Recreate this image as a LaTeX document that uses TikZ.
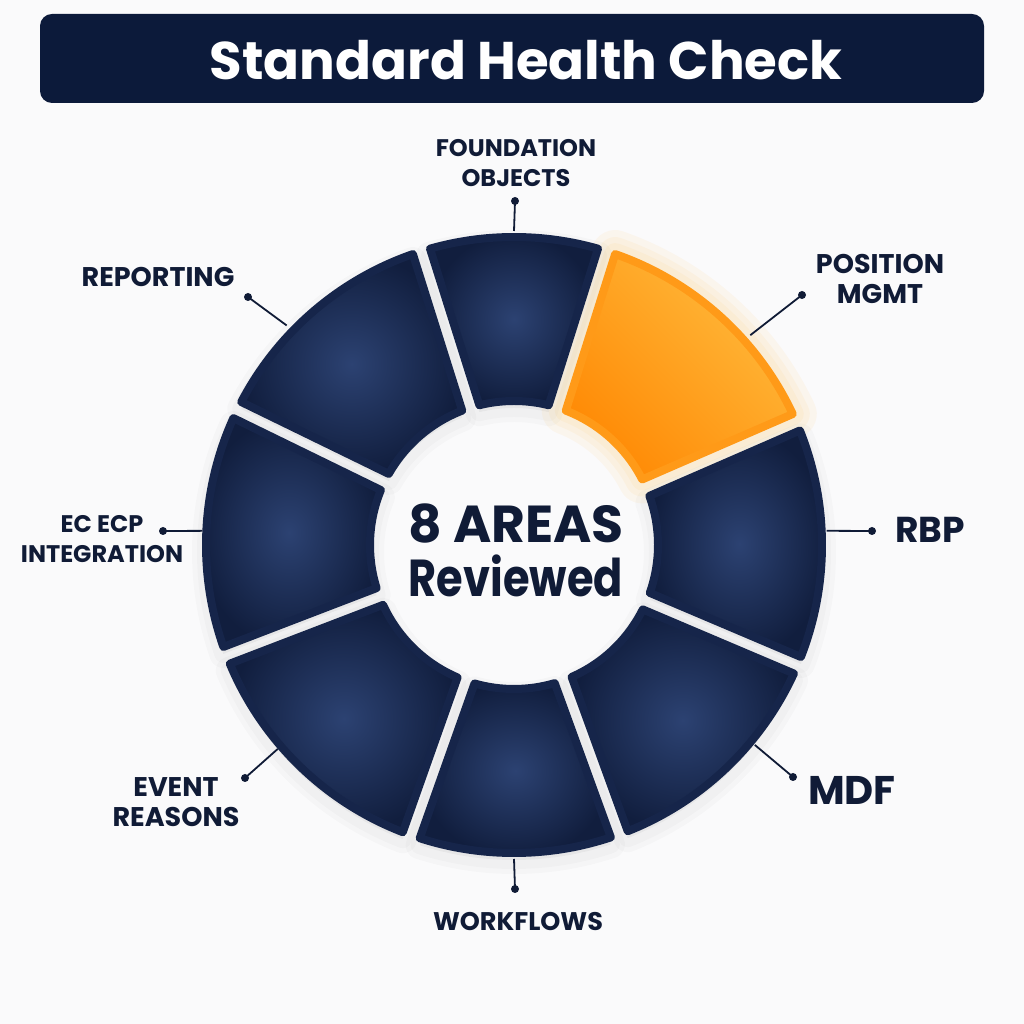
\documentclass[tikz,border=0pt]{standalone}
\usepackage{fontspec}
\setmainfont{Poppins}
\definecolor{navy}{HTML}{0C1A3A}
\definecolor{navyD}{HTML}{111E3E}
\definecolor{navyL}{HTML}{2C4272}
\definecolor{navyE}{HTML}{16254A}
\definecolor{orD}{HTML}{FF8A05}
\definecolor{orL}{HTML}{FFBA3C}
\definecolor{orE}{HTML}{FF9A18}
\definecolor{txt}{HTML}{101B36}
\definecolor{bgc}{HTML}{FAFAFB}
\newcommand\RgOut{308}
\newcommand\RgIn{144}
\newcommand\RgdO{1.67}
\newcommand\RgdI{3.58}
\newcommand\RingSeg[3]{%
 \pgfmathsetmacro\aoS{#1+\RgdO}\pgfmathsetmacro\aoE{#2-\RgdO}%
 \pgfmathsetmacro\aiS{#1+\RgdI}\pgfmathsetmacro\aiE{#2-\RgdI}%
 \path[#3] (\aoS:\RgOut) arc[start angle=\aoS, end angle=\aoE, radius=\RgOut] -- (\aiE:\RgIn) arc[start angle=\aiE, end angle=\aiS, radius=\RgIn] -- cycle;}
\begin{document}
\begin{tikzpicture}[x=1pt,y=1pt,
 lbl/.style={font=\fontsize{#1}{30}\selectfont\bfseries, text=txt, align=center, inner sep=0},
 lbl/.default=24,
 conn/.style={draw=txt, line width=1.8pt},
 dotc/.style={circle, fill=txt, minimum size=8pt, inner sep=0},
 navyseg/.style={inner color=navyL, outer color=navyD, draw=navyE, line width=8pt, line join=round},
 orseg/.style={top color=orL, bottom color=orD, shading angle=-45, draw=orE, line width=8pt, line join=round},
 shadowseg/.style={fill=black, fill opacity=0.018, draw=black, draw opacity=0.018, line width=#1, line join=round, yshift=-7pt},
 glowseg/.style={fill=orL, fill opacity=0.07, draw=orL, draw opacity=0.07, line width=#1, line join=round}
]
\useasboundingbox (0,0) rectangle (1024,1024);
\fill[bgc] (0,0) rectangle (1024,1024);
% title
\node[fill=navy, rounded corners=12pt, minimum width=944pt, minimum height=89pt, inner sep=0] (titlebox) at (512,965.5) {};
\node[font=\fontsize{53}{56}\selectfont\bfseries, text=white, inner sep=0] (titletext) at (526,964) {Standard Health Check};
% ring
\begin{scope}[shift={(514,479)}]
 \foreach \w in {28,18}{
  \RingSeg{107.5}{154}{shadowseg=\w pt}
  \RingSeg{154}{201}{shadowseg=\w pt}
  \RingSeg{201}{250.5}{shadowseg=\w pt}
  \RingSeg{250.5}{290}{shadowseg=\w pt}
  \RingSeg{290}{337}{shadowseg=\w pt}
  \RingSeg{337}{383.5}{shadowseg=\w pt}
  \RingSeg{72.5}{107.5}{shadowseg=\w pt}
 }
 \foreach \w in {48,34,22}{
  \RingSeg{23.5}{72.5}{glowseg=\w pt}
 }
 \RingSeg{72.5}{107.5}{navyseg}
 \RingSeg{107.5}{154}{navyseg}
 \RingSeg{154}{201}{navyseg}
 \RingSeg{201}{250.5}{navyseg}
 \RingSeg{250.5}{290}{navyseg}
 \RingSeg{290}{337}{navyseg}
 \RingSeg{337}{383.5}{navyseg}
 \RingSeg{23.5}{72.5}{orseg}
 \coordinate (eF) at (90:314);
 \coordinate (eP) at (41.6:316);
 \coordinate (eR) at (2.6:313);
 \coordinate (eM) at (-39.7:313);
 \coordinate (eW) at (270:314);
 \coordinate (eE) at (220.8:312);
 \coordinate (eC) at (177.4:312);
 \coordinate (eRep) at (136:316);
\end{scope}
% center text
\node[font=\fontsize{52}{54}\selectfont\bfseries, text=txt, align=center, inner sep=0] (center) at (516,474) {8 AREAS\\\scalebox{0.83}[1]{Reviewed}};
% labels
\node[lbl] (lF) at (516,861) {FOUNDATION\\OBJECTS};
\node[lbl=27] (lP) at (880,745) {POSITION\\MGMT};
\node[font=\fontsize{36}{40}\selectfont\bfseries, text=txt, inner sep=0] (lR) at (930,494) {RBP};
\node[font=\fontsize{40}{44}\selectfont\bfseries, text=txt, inner sep=0] (lM) at (852,234) {MDF};
\node[lbl=25.5] (lW) at (518,102) {WORKFLOWS};
\node[lbl=27] (lE) at (176,222) {EVENT\\REASONS};
\node[lbl] (lC) at (102,485) {EC ECP\\INTEGRATION};
\node[lbl=27] (lRep) at (158,747) {REPORTING};
% dots and connectors
\node[dotc] (dF) at (515,823) {};
\node[dotc] (dP) at (802,729) {};
\node[dotc] (dR) at (872,493) {};
\node[dotc] (dM) at (793,247) {};
\node[dotc] (dW) at (515,135) {};
\node[dotc] (dE) at (245,246) {};
\node[dotc] (dC) at (163,493) {};
\node[dotc] (dRep) at (248,727) {};
\draw[conn] (dF.center) -- (eF);
\draw[conn] (dP.center) -- (eP);
\draw[conn] (dR.center) -- (eR);
\draw[conn] (dM.center) -- (eM);
\draw[conn] (dW.center) -- (eW);
\draw[conn] (dE.center) -- (eE);
\draw[conn] (dC.center) -- (eC);
\draw[conn] (dRep.center) -- (eRep);
\end{tikzpicture}
\end{document}
